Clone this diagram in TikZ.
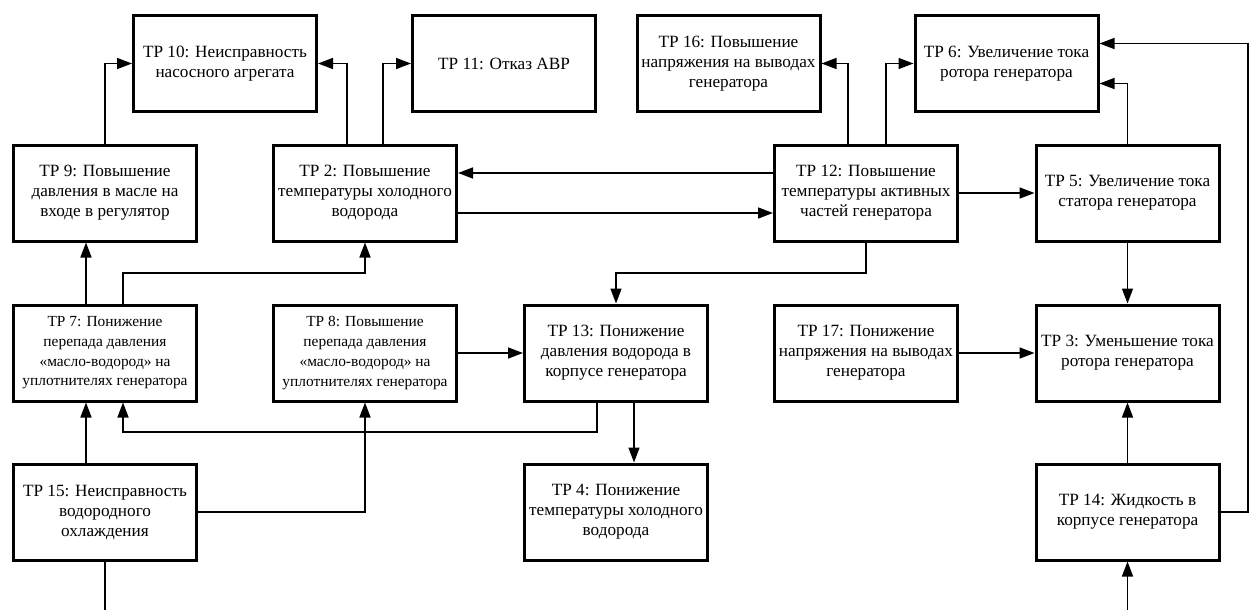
\documentclass[tikz,border=0pt]{standalone}
\usepackage{fontspec}
\setmainfont{Liberation Serif}
\newfontfamily\tpfont{Liberation Serif}
\usetikzlibrary{arrows.meta,positioning}

\begin{document}
\begin{tikzpicture}[x=1pt,y=-1pt,
		tpbox/.style={draw, line width=3pt, minimum width=183pt, minimum height=96pt,
			align=center, inner sep=2pt, font=\tpfont\fontsize{17.2}{20}\selectfont},
		tpsmall/.style={tpbox, font=\tpfont\fontsize{15.4}{19.7}\selectfont},
		conn/.style={line width=1.5pt, -{Triangle[length=15pt,width=11pt]}},
		wire/.style={line width=1.5pt}]
		
		\useasboundingbox (0,0) rectangle (1250,610);
		
		\node[tpbox] (tp10) at (225,63.5) {TP 10: Неисправность\\насосного агрегата};
		\node[tpbox] (tp11) at (504,63.5) {TP 11: Отказ АВР};
		\node[tpbox] (tp16) at (728.5,63.5) {TP 16: Повышение\\напряжения на выводах\\генератора};
		\node[tpbox] (tp6) at (1006.5,63.5) {TP 6: Увеличение тока\\ротора генератора};
		
		\node[tpbox] (tp9) at (105,193) {TP 9: Повышение\\давления в масле на\\входе в регулятор};
		\node[tpbox] (tp2) at (365,193) {TP 2: Повышение\\температуры холодного\\водорода};
		\node[tpbox] (tp12) at (866,193) {TP 12: Повышение\\температуры активных\\частей генератора};
		\node[tpbox] (tp5) at (1127.5,193) {TP 5: Увеличение тока\\статора генератора};
		
		\node[tpsmall] (tp7) at (105,353) {TP 7: Понижение\\перепада давления\\«масло-водород» на\\уплотнителях генератора};
		\node[tpsmall] (tp8) at (365,353) {TP 8: Повышение\\перепада давления\\«масло-водород» на\\уплотнителях генератора};
		\node[tpbox] (tp13) at (616,353) {TP 13: Понижение\\давления водорода в\\корпусе генератора};
		\node[tpbox] (tp17) at (866,353) {TP 17: Понижение\\напряжения на выводах\\генератора};
		\node[tpbox] (tp3) at (1127.5,353) {TP 3: Уменьшение тока\\ротора генератора};
		
		\node[tpbox] (tp15) at (105,512) {TP 15: Неисправность\\водородного\\охлаждения};
		\node[tpbox] (tp4) at (616,512) {TP 4: Понижение\\температуры холодного\\водорода};
		\node[tpbox] (tp14) at (1127.5,512) {TP 14: Жидкость в\\корпусе генератора};
		
		\coordinate (rt) at (1248,43.5);
		\coordinate (hup) at (0,273);
		\coordinate (hlow) at (0,432);
		\coordinate (in15) at (105,610);
		\coordinate (in14) at (1127.5,610);
		
		\draw[conn] (tp9.north) |- (tp10.west);
		\draw[conn] ([xshift=-18pt]tp2.north) |- (tp10.east);
		\draw[conn] ([xshift=18pt]tp2.north) |- (tp11.west);
		\draw[conn] ([xshift=-18pt]tp12.north) |- (tp16.east);
		\draw[conn] ([xshift=20pt]tp12.north) |- (tp6.west);
		\draw[conn] (tp5.north) |- ([yshift=-20pt]tp6.east);
		\draw[conn] (tp14.east) -| (rt) -- ([yshift=20pt]tp6.east);
		
		\draw[conn] ([yshift=20pt]tp12.west) -- ([yshift=20pt]tp2.east);
		\draw[conn] ([yshift=-20pt]tp2.east) -- ([yshift=-20pt]tp12.west);
		\draw[conn] (tp12) -- (tp5);
		\draw[conn] (tp12.south) -- (tp12.south |- hup) -| (tp13.north);
		\draw[conn] (tp5) -- (tp3);
		
		\draw[conn] ([xshift=-19pt]tp7.north) -- ([xshift=-19pt]tp9.south);
		\draw[conn] ([xshift=18pt]tp7.north) -- ([xshift=18pt]tp7.north |- hup) -| (tp2.south);
		\draw[conn] (tp8) -- (tp13);
		\draw[conn] (tp17) -- (tp3);
		\draw[conn] ([xshift=18pt]tp13.south) -- ([xshift=18pt]tp4.north);
		\draw[conn] ([xshift=-19pt]tp13.south) -- ([xshift=-19pt]tp13.south |- hlow) -| ([xshift=18pt]tp7.south);
		
		\draw[conn] ([xshift=-19pt]tp15.north) -- ([xshift=-19pt]tp7.south);
		\draw[conn] (tp15.east) -| (tp8.south);
		\draw[wire] (tp15.south) -- (in15);
		\draw[conn] (in14) -- (tp14.south);
		\draw[conn] (tp14) -- (tp3);
		
	\end{tikzpicture}
\end{document}
